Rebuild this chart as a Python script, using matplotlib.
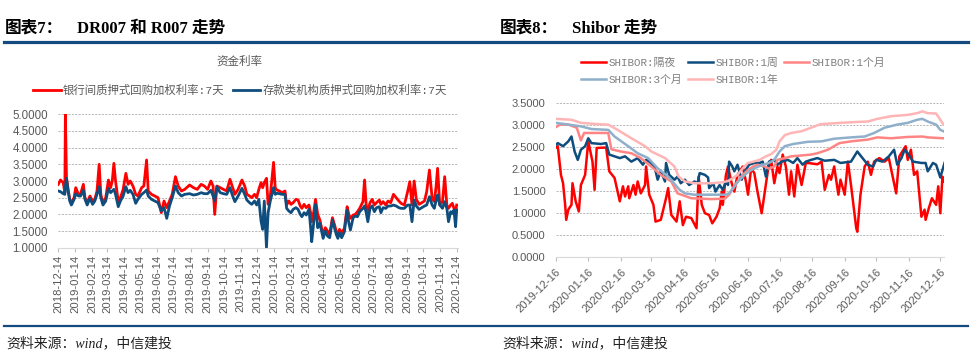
import matplotlib
matplotlib.use('Agg')
import matplotlib.pyplot as plt
import matplotlib.dates as mdates
from matplotlib.lines import Line2D
from matplotlib.ticker import FormatStrFormatter, MultipleLocator
import pandas as pd

# ---------------- data: left chart (days since 2018-12-14) ----------------
left_start = '2018-12-14'
left_days = [0, 4, 9, 12, 13, 15, 18, 21, 24, 29,
             32, 37, 41, 46, 49, 53, 58, 63, 67, 71,
             75, 78, 82, 87, 92, 96, 99, 102, 105, 110,
             114, 119, 124, 128, 132, 137, 142, 146, 153, 157,
             162, 165, 171, 177, 183, 189, 194, 199, 204, 209,
             215, 220, 226, 232, 241, 248, 255, 262, 268, 274,
             280, 284, 287, 291, 297, 303, 309, 315, 320, 324,
             330, 337, 342, 346, 351, 355, 360, 364, 368, 372,
             375, 378, 382, 385, 389, 395, 398, 401, 406, 410,
             416, 419, 423, 427, 431, 436, 440, 444, 447, 451,
             455, 460, 463, 465, 469, 472, 476, 480, 486, 490,
             494, 498, 503, 507, 510, 513, 516, 520, 525, 530,
             533, 536, 541, 545, 549, 553, 559, 562, 565, 568,
             572, 576, 580, 584, 589, 592, 596, 601, 605, 610,
             615, 620, 625, 629, 635, 641, 645, 649, 653, 657,
             662, 667, 672, 676, 681, 686, 690, 693, 696, 700,
             705, 709, 713, 716, 720, 723, 726, 729, 731]
r007 = [2.90, 3.03, 2.95, 2.65, 5.00, 3.10, 2.75, 2.45, 2.35, 2.50,
        2.80, 2.60, 2.62, 2.90, 2.50, 2.35, 2.55, 2.40, 2.45, 2.70,
        3.50, 2.60, 2.33, 2.50, 3.03, 2.80, 3.00, 3.53, 3.00, 2.40,
        2.50, 2.75, 3.23, 2.90, 3.00, 2.85, 2.60, 2.55, 2.80, 2.85,
        3.63, 2.70, 2.60, 2.55, 2.50, 2.05, 2.40, 2.20, 2.40, 2.60,
        3.13, 2.85, 2.70, 2.75, 2.88, 2.80, 2.75, 2.90, 2.85, 2.75,
        3.00, 2.85, 2.00, 2.85, 2.80, 2.75, 2.70, 3.05, 2.80, 2.60,
        2.75, 3.03, 2.85, 2.60, 2.55, 2.50, 2.60, 2.50, 2.75, 2.95,
        2.80, 2.95, 3.08, 2.30, 2.55, 3.56, 2.80, 2.73, 2.70, 2.65,
        2.70, 2.28, 2.40, 2.30, 2.35, 2.45, 2.43, 2.25, 2.18, 2.30,
        2.20, 2.28, 2.05, 1.78, 2.10, 2.45, 2.00, 1.83, 1.38, 1.60,
        1.50, 1.40, 1.90, 1.68, 1.50, 1.38, 1.55, 1.45, 1.58, 2.23,
        2.00, 1.88, 1.98, 2.00, 2.08, 2.18, 2.38, 3.03, 2.28, 2.08,
        2.35, 2.45, 2.28, 2.35, 2.43, 2.30, 2.38, 2.28, 2.40, 2.35,
        2.60, 2.50, 2.40, 2.33, 2.28, 2.68, 2.98, 2.28, 3.00, 2.45,
        2.30, 2.35, 2.40, 2.68, 3.33, 2.48, 2.38, 2.80, 3.38, 2.28,
        2.38, 3.13, 2.28, 2.18, 2.28, 2.33, 2.18, 2.08, 2.28]
dr007 = [2.70, 2.68, 2.62, 2.60, 2.85, 3.08, 2.70, 2.40, 2.28, 2.45,
         2.62, 2.55, 2.55, 2.72, 2.45, 2.28, 2.48, 2.30, 2.40, 2.60,
         2.83, 2.50, 2.28, 2.40, 2.78, 2.65, 2.70, 2.75, 2.60, 2.23,
         2.40, 2.55, 2.83, 2.65, 2.72, 2.60, 2.33, 2.45, 2.60, 2.65,
         2.73, 2.55, 2.45, 2.40, 2.35, 2.10, 2.20, 1.88, 2.25, 2.50,
         2.85, 2.65, 2.55, 2.60, 2.62, 2.58, 2.60, 2.65, 2.62, 2.62,
         2.72, 2.55, 2.40, 2.83, 2.65, 2.62, 2.60, 2.80, 2.55, 2.38,
         2.55, 2.78, 2.60, 2.43, 2.35, 2.30, 2.40, 2.28, 2.45, 1.80,
         1.55, 2.40, 1.00, 2.05, 2.40, 2.80, 2.60, 2.63, 2.62, 2.60,
         2.60, 2.18, 2.10, 2.05, 2.15, 2.20, 2.15, 2.00, 1.93, 2.05,
         1.98, 2.15, 1.60, 1.18, 1.80, 2.30, 1.60, 1.73, 1.28, 1.50,
         1.35, 1.30, 1.83, 1.58, 1.40, 1.28, 1.45, 1.30, 1.48, 2.13,
         1.75, 1.53, 1.90, 1.95, 1.93, 2.08, 2.18, 2.25, 2.05, 1.78,
         2.18, 2.25, 2.08, 2.20, 2.23, 2.05, 2.20, 2.18, 2.25, 2.25,
         2.28, 2.25, 2.20, 2.18, 2.18, 2.28, 2.28, 1.78, 2.43, 2.25,
         2.15, 2.20, 2.25, 2.28, 2.53, 2.28, 2.18, 2.40, 2.58, 2.28,
         2.18, 2.38, 2.18, 1.78, 2.08, 2.03, 2.13, 1.63, 2.13]
left_labels = ['银行间质押式回购加权利率:7天', '存款类机构质押式回购加权利率:7天']

# ---------------- data: right chart (days since 2019-12-16) ----------------
right_start = '2019-12-16'
on_days = [0, 2, 5, 7, 9, 10, 12, 15, 16, 19, 22, 24, 28, 31, 35, 37, 39, 48, 51, 56,
           61, 64, 66, 69, 70, 74, 76, 78, 81, 85, 86, 89, 93, 95, 100, 105, 107, 110, 115, 118,
           121, 124, 129, 134, 136, 139, 142, 146, 149, 153, 156, 158, 159, 162, 164, 167, 170, 173, 178, 181,
           183, 186, 189, 192, 196, 199, 202, 205, 208, 211, 213, 216, 219, 222, 224, 227, 230, 234, 238, 240,
           249, 253, 256, 260, 262, 265, 269, 271, 275, 278, 281, 286, 287, 290, 294, 297, 300, 303, 308, 313,
           317, 324, 327, 333, 335, 338, 341, 344, 348, 351, 352, 355, 358, 362, 364, 366, 368, 369]
on_vals = [2.48, 2.52, 1.87, 1.68, 1.19, 0.85, 1.08, 1.19, 1.68, 1.27, 1.04, 1.64, 1.87, 2.63, 2.17, 1.53, 2.48, 2.49, 1.95, 1.80,
           1.27, 1.61, 1.38, 1.61, 1.34, 1.64, 1.42, 1.72, 1.45, 1.64, 2.06, 1.42, 1.19, 0.81, 0.85, 1.34, 1.57, 0.96, 0.81, 1.27,
           0.73, 0.92, 0.89, 0.66, 1.83, 1.19, 1.00, 0.96, 0.77, 0.92, 1.11, 1.49, 1.19, 1.87, 2.06, 1.72, 1.49, 1.87, 2.06, 1.72,
           1.42, 2.02, 1.91, 1.49, 1.00, 1.49, 1.98, 2.21, 1.68, 2.06, 1.91, 2.33, 2.06, 1.42, 1.95, 1.38, 2.10, 1.64, 2.14, 2.14,
           2.11, 2.17, 1.53, 1.87, 1.76, 2.06, 1.42, 1.76, 1.42, 2.17, 1.64, 0.66, 0.58, 1.42, 2.06, 2.17, 1.87, 2.17, 2.25, 2.17,
           2.25, 1.45, 2.29, 2.52, 2.21, 2.44, 1.87, 1.95, 0.92, 1.08, 0.85, 1.11, 1.34, 1.19, 1.61, 1.00, 1.83, 1.72]

w1_days = [0, 2, 7, 12, 15, 18, 21, 24, 28, 31, 34, 43, 48, 51, 56, 61, 66, 72, 78, 83,
           86, 89, 94, 97, 100, 104, 105, 108, 113, 116, 119, 123, 127, 132, 135, 137, 142, 145, 146, 150,
           152, 156, 159, 162, 164, 165, 168, 170, 173, 177, 180, 184, 189, 194, 197, 200, 203, 208, 211, 215,
           221, 226, 230, 235, 238, 243, 249, 256, 265, 271, 281, 287, 292, 297, 302, 305, 311, 317, 322, 325,
           329, 332, 335, 340, 348, 352, 354, 359, 362, 366, 370]
w1_vals = [2.55, 2.59, 2.52, 2.63, 2.74, 2.40, 2.21, 2.44, 2.52, 2.70, 2.59, 2.57, 2.59, 2.33, 2.29, 2.25, 2.29, 2.17, 2.25, 2.10,
           2.21, 2.17, 2.06, 1.76, 1.95, 1.72, 2.14, 1.87, 1.76, 1.83, 1.68, 1.76, 1.64, 1.72, 1.68, 1.91, 1.87, 1.81, 1.57, 1.68,
           1.49, 1.64, 1.53, 1.72, 1.64, 2.17, 2.06, 1.95, 2.10, 1.76, 1.95, 2.10, 2.14, 2.14, 2.17, 1.83, 2.17, 2.21, 2.10, 2.17,
           2.21, 2.14, 2.25, 2.10, 2.17, 2.21, 2.25, 2.19, 2.21, 2.14, 2.17, 2.40, 2.25, 2.10, 2.06, 2.21, 2.17, 2.29, 2.44, 2.10,
           2.25, 2.44, 2.36, 2.17, 2.14, 2.14, 1.95, 2.14, 2.10, 1.81, 2.14]

m1_days = [0, 4, 12, 20, 24, 27, 50, 53, 62, 72, 81, 91, 100, 110, 116, 129, 148, 161, 165, 169,
           173, 178, 183, 188, 192, 199, 203, 208, 211, 218, 224, 234, 243, 249, 259, 270, 281, 297, 306, 319,
           335, 349, 354, 369]
m1_vals = [2.95, 3.01, 3.01, 2.94, 2.65, 2.82, 2.82, 2.45, 2.40, 2.36, 2.25, 2.06, 1.87, 1.72, 1.45, 1.34, 1.32, 1.33, 1.42, 1.57,
           1.72, 1.87, 1.98, 2.06, 2.10, 2.06, 2.01, 2.06, 2.21, 2.25, 2.29, 2.31, 2.33, 2.36, 2.44, 2.59, 2.63, 2.67, 2.72, 2.70,
           2.73, 2.74, 2.72, 2.70]

m3_days = [0, 12, 24, 34, 50, 56, 69, 78, 88, 97, 107, 118, 123, 132, 148, 161, 165, 170, 175, 180,
           184, 191, 197, 203, 208, 213, 218, 226, 240, 253, 265, 281, 294, 303, 313, 325, 335, 344, 349, 354,
           362, 366, 369]
m3_vals = [3.05, 3.01, 2.97, 2.91, 2.89, 2.74, 2.52, 2.36, 2.25, 2.02, 1.83, 1.53, 1.45, 1.42, 1.42, 1.42, 1.45, 1.61, 1.76, 1.87,
           1.95, 2.04, 2.10, 2.14, 2.21, 2.40, 2.52, 2.57, 2.62, 2.63, 2.69, 2.72, 2.74, 2.82, 2.94, 3.01, 3.05, 3.12, 3.14, 3.08,
           3.01, 2.89, 2.86]

y1_days = [0, 15, 24, 40, 50, 59, 72, 85, 91, 104, 113, 117, 123, 132, 148, 158, 164, 169, 173, 178,
           183, 188, 194, 200, 205, 210, 213, 218, 224, 234, 243, 252, 271, 287, 297, 306, 319, 335, 344, 349,
           354, 362, 366, 369]
y1_vals = [3.14, 3.12, 3.05, 3.02, 3.01, 2.89, 2.70, 2.52, 2.40, 2.25, 2.06, 1.83, 1.72, 1.68, 1.68, 1.70, 1.73, 1.80, 1.87, 2.02,
           2.14, 2.17, 2.21, 2.29, 2.34, 2.44, 2.63, 2.77, 2.82, 2.86, 2.94, 3.02, 3.05, 3.07, 3.08, 3.14, 3.20, 3.23, 3.27, 3.31,
           3.27, 3.26, 3.12, 3.01]

right_labels = ['SHIBOR:隔夜', 'SHIBOR:1周', 'SHIBOR:1个月', 'SHIBOR:3个月', 'SHIBOR:1年']

# ---------------- figure ----------------
W, H = 976, 358
plt.rcParams['font.family'] = ['Liberation Sans', 'Noto Sans CJK SC']
fig = plt.figure(figsize=(W / 100, H / 100), dpi=100)


def fx(px):
    return px / W


def fy(py):
    return 1 - py / H


grey = '#595959'
navy = '#134B7E'
title_font = ['Liberation Serif', 'Noto Sans CJK SC']
leg_font = ['Liberation Mono', 'Noto Sans CJK SC']

# headings and rules
fig.text(fx(5), fy(33), '图表7：', fontsize=12, weight='bold', family=title_font, va='baseline')
fig.text(fx(77), fy(33), 'DR007 和 R007 走势', fontsize=12, weight='bold', family=title_font, va='baseline')
fig.text(fx(500), fy(33), '图表8：', fontsize=12, weight='bold', family=title_font, va='baseline')
fig.text(fx(572), fy(33), 'Shibor 走势', fontsize=12, weight='bold', family=title_font, va='baseline')
fig.add_artist(Line2D([fx(4), fx(968)], [fy(42.3), fy(42.3)], color=navy, lw=2.3, transform=fig.transFigure))
fig.add_artist(Line2D([fx(4), fx(968)], [fy(326), fy(326)], color=navy, lw=1.6, transform=fig.transFigure))
fig.text(fx(6), fy(343), '资料来源：wind，中信建投', fontsize=10, style='italic',
         family=title_font, va='center', color='#222222')
fig.text(fx(502), fy(343), '资料来源：wind，中信建投', fontsize=10, style='italic',
         family=title_font, va='center', color='#222222')


def style_axis(ax):
    for s in ['top', 'right', 'left']:
        ax.spines[s].set_visible(False)
    ax.spines['bottom'].set_color('#D9D9D9')
    ax.spines['bottom'].set_linewidth(0.8)
    ax.yaxis.grid(True, linestyle=(0, (2.5, 1.5)), color='#ADADAD', lw=0.6)
    ax.set_axisbelow(True)
    ax.yaxis.set_major_formatter(FormatStrFormatter('%.4f'))
    ax.tick_params(axis='y', length=0, colors=grey, labelsize=8.3, pad=7.3)
    ax.tick_params(axis='x', length=3, color='#BFBFBF', labelcolor=grey, labelsize=8.1, pad=2)


# ---------------- left chart ----------------
axL = fig.add_axes([fx(58.3), fy(247.7), fx(400), (247.7 - 114.3) / H])
ld = pd.Timestamp(left_start) + pd.to_timedelta(left_days, unit='D')
axL.plot(ld, r007, color='#FF0000', lw=2.0, label=left_labels[0])
axL.plot(ld, dr007, color='#0E4D7D', lw=2.0, label=left_labels[1])
axL.set_ylim(1, 5)
axL.yaxis.set_major_locator(MultipleLocator(0.5))
axL.set_xlim(pd.Timestamp(left_start), pd.Timestamp(left_start) + pd.Timedelta(days=734))
axL.xaxis.set_major_locator(mdates.MonthLocator(bymonthday=14))
axL.xaxis.set_major_formatter(mdates.DateFormatter('%Y-%m-%d'))
style_axis(axL)
for lb in axL.get_xticklabels():
    lb.set_rotation(90)
fig.text(fx(239), fy(62), '资金利率', fontsize=8.3, color=grey, ha='center', va='center')
axL.legend(loc='center', bbox_to_anchor=(fx(240), fy(90)), bbox_transform=fig.transFigure,
           ncol=2, frameon=False, handlelength=2.4, handletextpad=0.2, columnspacing=0.7,
           prop={'family': leg_font, 'size': 8.2}, labelcolor=grey)

# ---------------- right chart ----------------
axR = fig.add_axes([fx(555.7), fy(257.3), fx(388.3), (257.3 - 103) / H])
rs = pd.Timestamp(right_start)
series = [(on_days, on_vals, '#FF0000'),
          (w1_days, w1_vals, '#0E4D7D'),
          (m1_days, m1_vals, '#FF8585'),
          (m3_days, m3_vals, '#8FAFCB'),
          (y1_days, y1_vals, '#FFB5B5')]
handles = []
for (d, v, c), lab in zip(series, right_labels):
    h, = axR.plot(rs + pd.to_timedelta(d, unit='D'), v, color=c, lw=1.8, label=lab)
    handles.append(h)
axR.set_ylim(0, 3.5)
axR.yaxis.set_major_locator(MultipleLocator(0.5))
axR.set_xlim(rs, rs + pd.Timedelta(days=369.5))
axR.xaxis.set_major_locator(mdates.MonthLocator(bymonthday=16))
axR.xaxis.set_major_formatter(mdates.DateFormatter('%Y-%m-%d'))
style_axis(axR)
axR.tick_params(axis='x', pad=4, labelsize=8)
axR.tick_params(axis='y', labelsize=8)
for lb in axR.get_xticklabels():
    lb.set_rotation(45)
    lb.set_ha('right')
    lb.set_rotation_mode('anchor')
order = [0, 3, 1, 4, 2]
axR.legend([handles[i] for i in order], [right_labels[i] for i in order],
           loc='center', bbox_to_anchor=(fx(733), fy(71.5)), bbox_transform=fig.transFigure,
           ncol=3, frameon=False, handlelength=2.3, handletextpad=0.25, columnspacing=0.5,
           labelspacing=0.6, prop={'family': leg_font, 'size': 7.8}, labelcolor='#7F7F7F')

fig.savefig('out.png', dpi=100)
